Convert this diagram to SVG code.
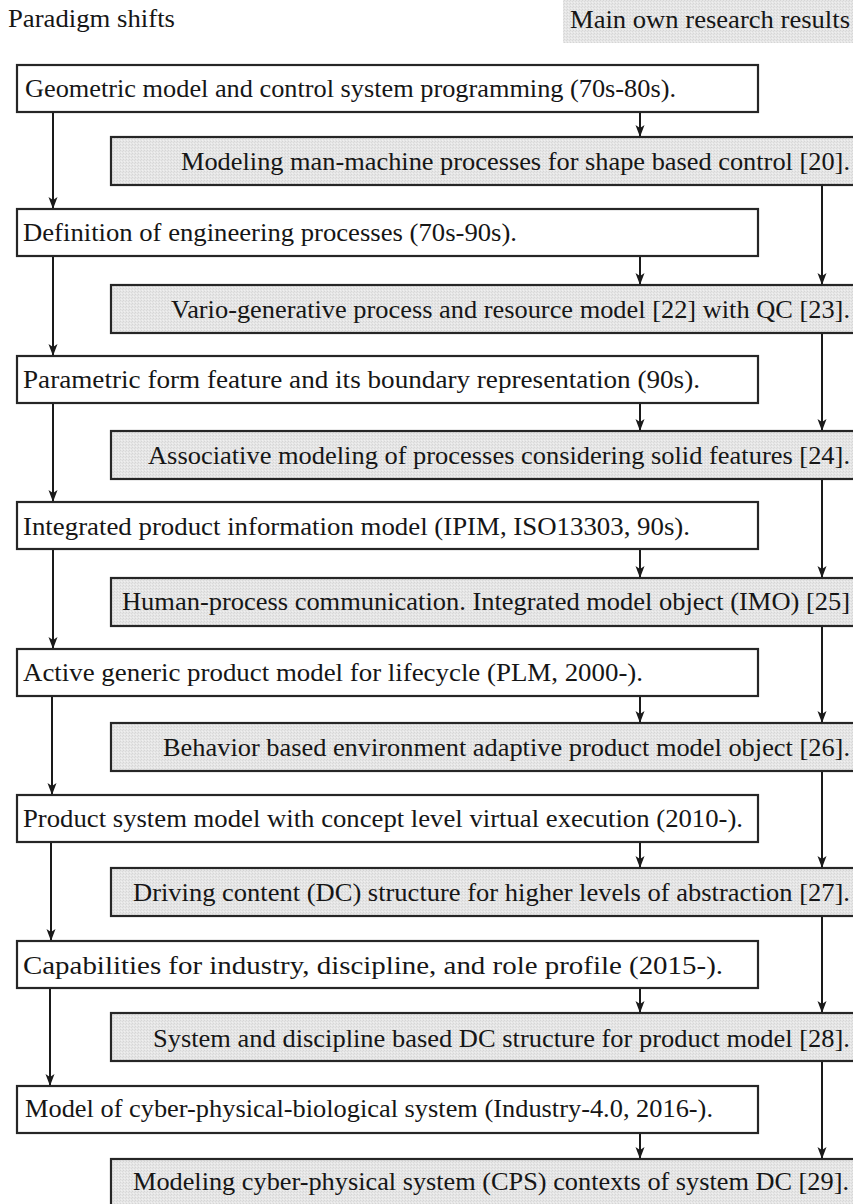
<svg xmlns="http://www.w3.org/2000/svg" width="853" height="1204" viewBox="0 0 853 1204">
  <defs>
    <!-- fine stipple used for the shaded result boxes -->
    <pattern id="stipple" width="3" height="3" patternUnits="userSpaceOnUse">
      <rect width="3" height="3" fill="#e6e6e6"/>
      <rect x="0" y="0" width="1" height="1" fill="#d6d6d6"/>
      <rect x="2" y="1" width="1" height="1" fill="#dadada"/>
      <rect x="1" y="2" width="1" height="1" fill="#f0f0f0"/>
    </pattern>
    <marker id="arrow" viewBox="0 0 12 10" refX="12" refY="5" markerWidth="12" markerHeight="10" markerUnits="userSpaceOnUse" orient="auto">
      <path d="M0,0.5 L12,5 L0,9.5 L3,5 Z" fill="#1a1a1a"/>
    </marker>
    <style>
      .txt { font-family: "Liberation Serif", "Times New Roman", serif; font-size: 25px; fill: #161616; }
      .head { font-family: "Liberation Serif", "Times New Roman", serif; font-size: 26px; fill: #161616; }
      .wbox { fill: #ffffff; stroke: #262626; stroke-width: 2.2; }
      .gbox { fill: url(#stipple); stroke: #262626; stroke-width: 2.2; }
      .conn { fill: none; stroke: #1a1a1a; stroke-width: 2; marker-end: url(#arrow); }
    </style>
  </defs>

  <rect width="853" height="1204" fill="#ffffff"/>

  <!-- column headings -->
  <g id="heading-left">
    <text class="head" x="8" y="27" textLength="167" lengthAdjust="spacingAndGlyphs">Paradigm  shifts</text>
  </g>
  <g id="heading-right">
    <rect x="563" y="0" width="290" height="43" fill="url(#stipple)"/>
    <text class="head" x="570" y="28" textLength="280" lengthAdjust="spacingAndGlyphs">Main own research results</text>
  </g>

  <!-- connectors -->
  <g id="connectors">
    <!-- paradigm chain (left) -->
    <line class="conn" x1="53" y1="112" x2="53" y2="209"/>
    <line class="conn" x1="53" y1="256" x2="53" y2="356"/>
    <line class="conn" x1="53" y1="403" x2="53" y2="502"/>
    <line class="conn" x1="53" y1="549" x2="53" y2="649"/>
    <line class="conn" x1="52" y1="696" x2="52" y2="795"/>
    <line class="conn" x1="51" y1="842" x2="51" y2="941"/>
    <line class="conn" x1="50" y1="988" x2="50" y2="1086"/>
    <!-- paradigm to result (middle) -->
    <line class="conn" x1="640" y1="112" x2="640" y2="137"/>
    <line class="conn" x1="640" y1="256" x2="640" y2="285"/>
    <line class="conn" x1="640" y1="403" x2="640" y2="431"/>
    <line class="conn" x1="640" y1="549" x2="640" y2="578"/>
    <line class="conn" x1="640" y1="696" x2="640" y2="723"/>
    <line class="conn" x1="640" y1="842" x2="640" y2="868"/>
    <line class="conn" x1="640" y1="988" x2="640" y2="1013"/>
    <line class="conn" x1="640" y1="1133" x2="640" y2="1159"/>
    <!-- result chain (right) -->
    <line class="conn" x1="822" y1="185" x2="822" y2="285"/>
    <line class="conn" x1="822" y1="333" x2="822" y2="431"/>
    <line class="conn" x1="822" y1="479" x2="822" y2="578"/>
    <line class="conn" x1="822" y1="626" x2="822" y2="723"/>
    <line class="conn" x1="822" y1="771" x2="822" y2="868"/>
    <line class="conn" x1="822" y1="916" x2="822" y2="1013"/>
    <line class="conn" x1="822" y1="1061" x2="822" y2="1159"/>
  </g>

  <!-- paradigm boxes -->
  <g id="p1">
    <rect class="wbox" x="17" y="65" width="741" height="47"/>
    <text class="txt" x="25" y="97" textLength="651" lengthAdjust="spacingAndGlyphs">Geometric  model and control system programming  (70s-80s).</text>
  </g>
  <g id="p2">
    <rect class="wbox" x="17" y="209" width="741" height="47"/>
    <text class="txt" x="23" y="241" textLength="494" lengthAdjust="spacingAndGlyphs">Definition  of engineering processes (70s-90s).</text>
  </g>
  <g id="p3">
    <rect class="wbox" x="17" y="356" width="741" height="47"/>
    <text class="txt" x="23" y="388" textLength="677" lengthAdjust="spacingAndGlyphs">Parametric  form  feature  and its boundary representation (90s).</text>
  </g>
  <g id="p4">
    <rect class="wbox" x="17" y="502" width="741" height="47"/>
    <text class="txt" x="23" y="535" textLength="667" lengthAdjust="spacingAndGlyphs">Integrated product information  model  (IPIM, ISO13303,   90s).</text>
  </g>
  <g id="p5">
    <rect class="wbox" x="17" y="649" width="741" height="47"/>
    <text class="txt" x="23" y="681" textLength="620" lengthAdjust="spacingAndGlyphs">Active generic product model for lifecycle  (PLM,  2000-).</text>
  </g>
  <g id="p6">
    <rect class="wbox" x="17" y="795" width="741" height="47"/>
    <text class="txt" x="23" y="827" textLength="720" lengthAdjust="spacingAndGlyphs">Product system model with concept level virtual execution  (2010-).</text>
  </g>
  <g id="p7">
    <rect class="wbox" x="17" y="941" width="741" height="47"/>
    <text class="txt" x="23" y="974" textLength="700" lengthAdjust="spacingAndGlyphs">Capabilities   for industry, discipline, and role profile  (2015-).</text>
  </g>
  <g id="p8">
    <rect class="wbox" x="17" y="1086" width="741" height="47"/>
    <text class="txt" x="25" y="1117" textLength="688" lengthAdjust="spacingAndGlyphs">Model of cyber-physical-biological  system (Industry-4.0,  2016-).</text>
  </g>

  <!-- research result boxes -->
  <g id="r1">
    <rect class="gbox" x="111" y="137" width="750" height="48"/>
    <text class="txt" x="181" y="170" textLength="669" lengthAdjust="spacingAndGlyphs">Modeling man-machine  processes for shape based control [20].</text>
  </g>
  <g id="r2">
    <rect class="gbox" x="111" y="285" width="750" height="48"/>
    <text class="txt" x="171" y="318" textLength="679" lengthAdjust="spacingAndGlyphs">Vario-generative  process and resource model  [22]  with QC  [23].</text>
  </g>
  <g id="r3">
    <rect class="gbox" x="111" y="431" width="750" height="48"/>
    <text class="txt" x="148" y="464" textLength="702" lengthAdjust="spacingAndGlyphs">Associative modeling of processes considering solid features [24].</text>
  </g>
  <g id="r4">
    <rect class="gbox" x="111" y="578" width="750" height="48"/>
    <text class="txt" x="122" y="610" textLength="728" lengthAdjust="spacingAndGlyphs">Human-process communication.  Integrated model object (IMO)  [25]</text>
  </g>
  <g id="r5">
    <rect class="gbox" x="111" y="723" width="750" height="48"/>
    <text class="txt" x="163" y="756" textLength="687" lengthAdjust="spacingAndGlyphs">Behavior based environment adaptive product model object [26].</text>
  </g>
  <g id="r6">
    <rect class="gbox" x="111" y="868" width="750" height="48"/>
    <text class="txt" x="133" y="901" textLength="717" lengthAdjust="spacingAndGlyphs">Driving  content (DC)  structure for higher levels of abstraction [27].</text>
  </g>
  <g id="r7">
    <rect class="gbox" x="111" y="1013" width="750" height="48"/>
    <text class="txt" x="153" y="1047" textLength="697" lengthAdjust="spacingAndGlyphs">System and discipline based DC  structure for product model  [28].</text>
  </g>
  <g id="r8">
    <rect class="gbox" x="111" y="1159" width="750" height="48"/>
    <text class="txt" x="133" y="1190" textLength="716" lengthAdjust="spacingAndGlyphs">Modeling cyber-physical system (CPS)  contexts of system DC  [29].</text>
  </g>
</svg>
